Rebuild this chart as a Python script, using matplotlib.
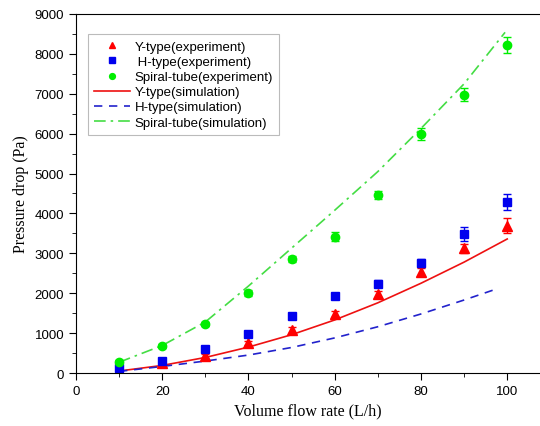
import matplotlib.pyplot as plt
from matplotlib.ticker import MultipleLocator

# flow rate (L/h)
flow = [10, 20, 30, 40, 50, 60, 70, 80, 90, 100]

# experiment (Pa)
y_exp = [60, 250, 435, 750, 1080, 1480, 1970, 2530, 3125, 3690]
y_err = [30, 40, 50, 60, 70, 80, 90, 100, 120, 190]
h_exp = [115, 310, 600, 980, 1435, 1940, 2240, 2765, 3485, 4280]
h_err = [30, 40, 50, 60, 60, 70, 80, 100, 180, 200]
s_exp = [280, 670, 1230, 2010, 2860, 3420, 4460, 5990, 6980, 8220]
s_err = [40, 50, 60, 70, 80, 120, 100, 145, 170, 210]

# simulation (Pa)
y_sim = [50, 190, 390, 650, 960, 1330, 1760, 2250, 2780, 3360]
h_flow = [10, 20, 30, 40, 50, 60, 70, 80, 90, 98]
h_sim = [40, 165, 300, 450, 640, 880, 1160, 1480, 1830, 2125]
s_flow = [10, 20, 30, 40, 50, 60, 70, 80, 90, 99.5]
s_sim = [270, 690, 1280, 2180, 3130, 4080, 5050, 6130, 7250, 8540]

fig = plt.figure(figsize=(5.4, 4.27), dpi=100)
ax = fig.add_axes([0.1407, 0.1241, 0.8593, 0.8408])

e1 = ax.errorbar(flow, y_exp, yerr=y_err, fmt='^', color='#ff0000', ms=6.5, capsize=3, elinewidth=1)
e2 = ax.errorbar(flow, h_exp, yerr=h_err, fmt='s', color='#0000ee', ms=5.5, capsize=3, elinewidth=1)
e3 = ax.errorbar(flow, s_exp, yerr=s_err, fmt='o', color='#00ee00', ms=6, capsize=3, elinewidth=1)
l1, = ax.plot(flow, y_sim, '-', color='#ee1111', lw=1.2)
l2, = ax.plot(h_flow, h_sim, '--', color='#2222cc', lw=1.2, dashes=(5, 4))
l3, = ax.plot(s_flow, s_sim, '-.', color='#44dd44', lw=1.2, dashes=(7, 3, 1.5, 3))

ax.set_xlim(0, 107.6)
ax.set_ylim(0, 9000)
ax.xaxis.set_major_locator(MultipleLocator(20))
ax.xaxis.set_minor_locator(MultipleLocator(10))
ax.yaxis.set_major_locator(MultipleLocator(1000))
ax.yaxis.set_minor_locator(MultipleLocator(500))
ax.tick_params(which='both', direction='out', labelsize=9.5)
ax.tick_params(which='major', length=5)
ax.tick_params(which='minor', length=3)
for lab in ax.get_xticklabels() + ax.get_yticklabels():
    lab.set_family('Liberation Sans')
ax.spines['right'].set_visible(False)

ax.set_xlabel('Volume flow rate (L/h)', family='Liberation Serif', fontsize=11.5)
ax.set_ylabel('Pressure drop (Pa)', family='Liberation Serif', fontsize=11.5)

handles = [e1[0], e2[0], e3[0], l1, l2, l3]
labels = ['Y-type(experiment)', ' H-type(experiment)', 'Spiral-tube(experiment)',
          'Y-type(simulation)', 'H-type(simulation)', 'Spiral-tube(simulation)']
leg = ax.legend(handles, labels, loc='upper left', bbox_to_anchor=(0.025, 0.944),
                prop={'family': 'Liberation Sans', 'size': 9.5}, markerscale=0.7,
                fancybox=False, edgecolor='#aaaaaa', handlelength=2.7, labelspacing=0.22,
                borderpad=0.5, handletextpad=0.35, borderaxespad=0)
leg.get_frame().set_linewidth(0.8)

plt.savefig('out.png', dpi=100)
